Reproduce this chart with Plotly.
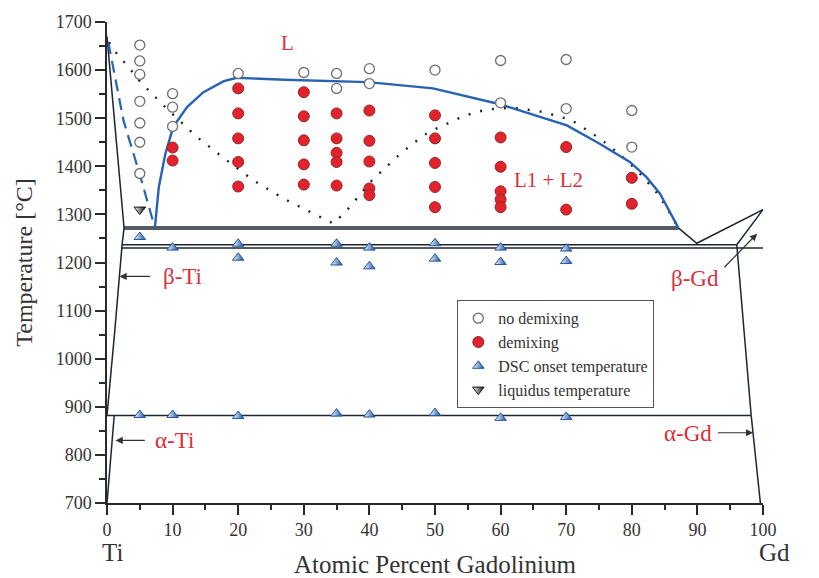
import plotly.graph_objects as go

# ---------------- data ----------------
# experimental points
no_demix_x = [5]*7 + [10]*3 + [20] + [30] + [35]*2 + [40]*2 + [50] + [60]*2 + [70]*2 + [80]*2
no_demix_T = [1652, 1619, 1591, 1535, 1490, 1450, 1385,
              1551, 1523, 1483,
              1593, 1595, 1593, 1562, 1603, 1572, 1600,
              1620, 1532, 1622, 1520, 1516, 1440]

demix_x = [10]*2 + [20]*5 + [30]*5 + [35]*5 + [40]*5 + [50]*5 + [60]*5 + [70]*2 + [80]*2
demix_T = [1439, 1412,
           1562, 1510, 1458, 1409, 1358,
           1554, 1504, 1454, 1404, 1362,
           1510, 1458, 1428, 1409, 1360,
           1516, 1453, 1410, 1354, 1340,
           1506, 1458, 1407, 1357, 1315,
           1460, 1399, 1348, 1331, 1315,
           1440, 1310,
           1376, 1322]

dsc_x = [5, 10, 20, 20, 35, 35, 40, 40, 50, 50, 60, 60, 70, 70,
         5, 10, 20, 35, 40, 50, 60, 70]
dsc_T = [1253, 1231, 1239, 1210, 1239, 1200, 1231, 1192, 1240, 1208, 1231, 1201, 1229, 1203,
         883, 883, 881, 886, 884, 887, 877, 879]

liq_x = [5]
liq_T = [1310]

# phase boundaries (solid black)
ti_liq_x, ti_liq_T = [0, 2.6], [1670, 1272]
bti_solvus_x, bti_solvus_T = [2.6, 2.3, 1.2, 0], [1272, 1237, 1060, 882]
ati_solvus_x, ati_solvus_T = [1.1, 0], [882, 700]
iso882_x, iso882_T = [0, 98.2], [882, 882]
mono_a_x, mono_a_T = [2.6, 87.1], [1274, 1274]
mono_b_x, mono_b_T = [2.6, 87.1], [1269.5, 1269.5]
eut_a_x, eut_a_T = [2.3, 96.0], [1237, 1237]
eut_b_x, eut_b_T = [2.2, 100], [1230, 1230]
gd_liq_x, gd_liq_T = [87.1, 89.9, 100], [1272, 1240, 1310]
bgd_x, bgd_T = [100, 96.0, 98.2], [1310, 1237, 882]
agd_x, agd_T = [98.2, 99.6], [882, 700]

# miscibility gap (blue solid) and metastable extension (blue dashed)
gap_x = [7.3, 7.9, 8.9, 10.1, 12.2, 14.7, 17.8, 19.8, 27.0, 39.8, 49.7, 59.9, 70.1, 75.1, 79.7, 82.2, 84.3, 87.1]
gap_T = [1272, 1357, 1426, 1482, 1523, 1554, 1577, 1584, 1580, 1575, 1562, 1529, 1485, 1447, 1409, 1378, 1343, 1272]
gapd_x = [0.2, 2.5, 5.1, 7.3]
gapd_T = [1658, 1496, 1378, 1272]

# calculated liquidus (black dotted)
dot_x = [0.3, 1.5, 3.3, 5.1, 9.4, 13.7, 18.3, 22.3, 26.9, 34.5, 36.6, 40.4, 42.6, 44.7, 47.0,
         49.0, 51.3, 53.5, 55.6, 57.9, 61.9, 66.5, 70.8, 75.1, 77.7, 79.7, 81.7, 83.8, 85.3, 87.0]
dot_T = [1658, 1634, 1606, 1575, 1516, 1461, 1412, 1371, 1333, 1281, 1309, 1371, 1399, 1426, 1451,
         1471, 1485, 1499, 1510, 1518, 1522, 1513, 1496, 1458, 1430, 1406, 1378, 1345, 1315, 1274]

x_ticks = list(range(0, 101, 10))
y_ticks = list(range(700, 1701, 100))

# ---------------- figure ----------------
SERIF = "Liberation Serif, Times New Roman, serif"
BLACK = "#1c2530"
BLUE = "#2863b2"
RED = "#d9303a"

fig = go.Figure()

def solid(x, y, w=1.5, color=BLACK, dash=None):
    fig.add_trace(go.Scatter(x=x, y=y, mode="lines", showlegend=False, hoverinfo="skip",
                             line=dict(color=color, width=w, dash=dash)))

for xs, ys in [(ti_liq_x, ti_liq_T), (bti_solvus_x, bti_solvus_T), (ati_solvus_x, ati_solvus_T),
               (iso882_x, iso882_T), (mono_a_x, mono_a_T), (mono_b_x, mono_b_T),
               (eut_a_x, eut_a_T), (eut_b_x, eut_b_T), (gd_liq_x, gd_liq_T),
               (bgd_x, bgd_T), (agd_x, agd_T)]:
    solid(xs, ys)

solid(gapd_x, gapd_T, w=2.2, color=BLUE, dash="12px,7px")
solid(dot_x, dot_T, w=2.4, color=BLACK, dash="2px,10px")
solid(gap_x, gap_T, w=2.4, color=BLUE)

fig.add_trace(go.Scatter(x=no_demix_x, y=no_demix_T, mode="markers", name="no demixing",
                         marker=dict(symbol="circle", size=10, color="white",
                                     line=dict(color="#6e6e6e", width=1.3))))
fig.add_trace(go.Scatter(x=demix_x, y=demix_T, mode="markers", name="demixing",
                         marker=dict(symbol="circle", size=11, color="#e3222c",
                                     line=dict(color="#8c2a2a", width=1))))
fig.add_trace(go.Scatter(x=dsc_x, y=dsc_T, mode="markers", name="DSC onset temperature",
                         marker=dict(symbol="triangle-up", size=10, color="white",
                                     gradient=dict(type="horizontal", color="#1a4f9c"),
                                     line=dict(color="#1f55a5", width=1))))
fig.add_trace(go.Scatter(x=liq_x, y=liq_T, mode="markers", name="liquidus temperature",
                         marker=dict(symbol="triangle-down", size=10, color="white",
                                     gradient=dict(type="horizontal", color="#111111"),
                                     line=dict(color="#111111", width=1))))

tickfont = dict(family=SERIF, size=18, color="#333333")
axis_common = dict(showgrid=False, zeroline=False, showline=True, linecolor="#2a2a2a", linewidth=1.5,
                   ticks="outside", ticklen=10, tickwidth=1.5, tickcolor="#2a2a2a", tickfont=tickfont,
                   automargin=False)

fig.update_layout(
    width=819, height=578,
    margin=dict(l=107, r=56, t=22, b=75),
    paper_bgcolor="white", plot_bgcolor="white",
    font=dict(family=SERIF, color="#333333"),
    xaxis=dict(range=[0, 100], tickvals=x_ticks,
               minor=dict(dtick=5, tick0=0, ticklen=5, tickwidth=1.5, tickcolor="#2a2a2a", ticks="outside"),
               title=dict(text="Atomic Percent Gadolinium", font=dict(family=SERIF, size=25, color="#333"),
                          standoff=18),
               **axis_common),
    yaxis=dict(range=[700, 1700], tickvals=y_ticks,
               minor=dict(dtick=50, tick0=700, ticklen=6, tickwidth=1.5, tickcolor="#2a2a2a", ticks="outside"),
               title=dict(text="Temperature [°C]", font=dict(family=SERIF, size=24, color="#333"),
                          standoff=16),
               **axis_common),
    yaxis2=dict(range=[700, 1700], tickvals=y_ticks, overlaying="y", side="right",
                minor=dict(dtick=50, tick0=700, ticklen=6, tickwidth=1.5, tickcolor="#2a2a2a", ticks="outside"),
                **axis_common),
    legend=dict(x=0.534, y=0.4214, xanchor="left", yanchor="top",
                bordercolor="#555555", borderwidth=1, bgcolor="white",
                font=dict(family=SERIF, size=16, color="#333333"),
                tracegroupgap=0, itemwidth=30),
)

labels = [("L", 27.5, 1656, 21), ("L1 + L2", 67.3, 1371, 21), ("β-Ti", 11.5, 1171, 23), ("α-Ti", 10.3, 830, 23),
          ("β-Gd", 89.7, 1167, 23), ("α-Gd", 88.5, 844, 23)]
for txt, x, y, s in labels:
    fig.add_annotation(x=x, y=y, text=txt, showarrow=False, font=dict(family=SERIF, size=s, color=RED),
                       xanchor="center", yanchor="middle")

arrows = [((1.9, 1171), (6.8, 1171)), ((1.3, 830), (6.0, 830)),
          ((99.1, 1260), (93.9, 1187)), ((98.5, 846), (92.9, 846))]
for (tx, ty), (sx, sy) in arrows:
    fig.add_annotation(x=tx, y=ty, ax=sx, ay=sy, xref="x", yref="y", axref="x", ayref="y",
                       text="", showarrow=True, arrowhead=2, arrowsize=1.2, arrowwidth=1.2,
                       arrowcolor="#333333", standoff=0, startstandoff=0)

for txt, xp in [("Ti", 0.008), ("Gd", 1.018)]:
    fig.add_annotation(x=xp, y=-0.103, xref="paper", yref="paper", text=txt, showarrow=False,
                       font=dict(family=SERIF, size=25, color="#333333"), xanchor="center", yanchor="middle")

fig.write_html("out.html")
